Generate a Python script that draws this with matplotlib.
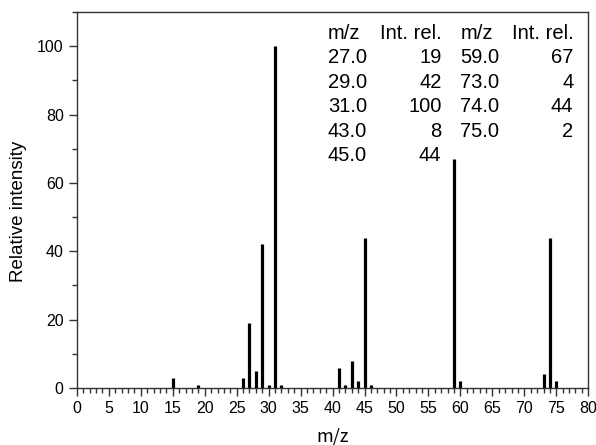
import numpy as np
import matplotlib.pyplot as plt
from matplotlib.ticker import MultipleLocator

# Mass spectrum peaks (m/z, relative intensity)
mz = [15, 19, 26, 27, 28, 29, 30, 31, 32, 41, 42, 43, 44, 45, 46, 59, 60, 73, 74, 75]
intensity = [3, 1, 3, 19, 5, 42, 1, 100, 1, 6, 1, 8, 2, 44, 1, 67, 2, 4, 44, 2]

# Peak table shown in the corner
table_mz_1 = ["27.0", "29.0", "31.0", "43.0", "45.0"]
table_int_1 = ["19", "42", "100", "8", "44"]
table_mz_2 = ["59.0", "73.0", "74.0", "75.0"]
table_int_2 = ["67", "4", "44", "2"]

plt.rcParams["font.family"] = ["Liberation Sans", "DejaVu Sans"]

fig = plt.figure(figsize=(5.96, 4.45), dpi=100)
ax = fig.add_axes([0.129, 0.128, 0.858, 0.845])

ax.vlines(mz, 0, intensity, color="black", lw=2.3)

ax.set_xlim(0, 80)
ax.set_ylim(0, 110)
ax.xaxis.set_major_locator(MultipleLocator(5))
ax.xaxis.set_minor_locator(MultipleLocator(1))
ax.yaxis.set_major_locator(MultipleLocator(20))
ax.yaxis.set_minor_locator(MultipleLocator(10))
ax.tick_params(which="major", length=5.5, width=1, color="#333", labelsize=11.5, pad=4)
ax.tick_params(which="minor", length=3.5, width=1, color="#333")
for s in ax.spines.values():
    s.set_color("#333")
    s.set_linewidth(1)

ax.set_xlabel("m/z", fontsize=13, family=["Noto Sans CJK JP", "DejaVu Sans"])
ax.set_ylabel("Relative intensity", fontsize=13.5)
ax.xaxis.label.set_va("center")
ax.xaxis.set_label_coords(0.5, -0.130)
ax.yaxis.set_label_coords(-0.098, 0.47)

# table text
fs = 14.5
y0 = 0.944
dy = 0.0652
cols = [(0.491, "left", "m/z", table_mz_1), (0.713, "right", "Int. rel.", table_int_1),
        (0.750, "left", "m/z", table_mz_2), (0.971, "right", "Int. rel.", table_int_2)]
for x, ha, head, vals in cols:
    ax.text(x, y0, head, transform=ax.transAxes, ha=ha, va="center", fontsize=fs)
    for i, v in enumerate(vals):
        ax.text(x, y0 - dy * (i + 1), v, transform=ax.transAxes, ha=ha, va="center", fontsize=fs)

fig.savefig("out.png", dpi=100)
